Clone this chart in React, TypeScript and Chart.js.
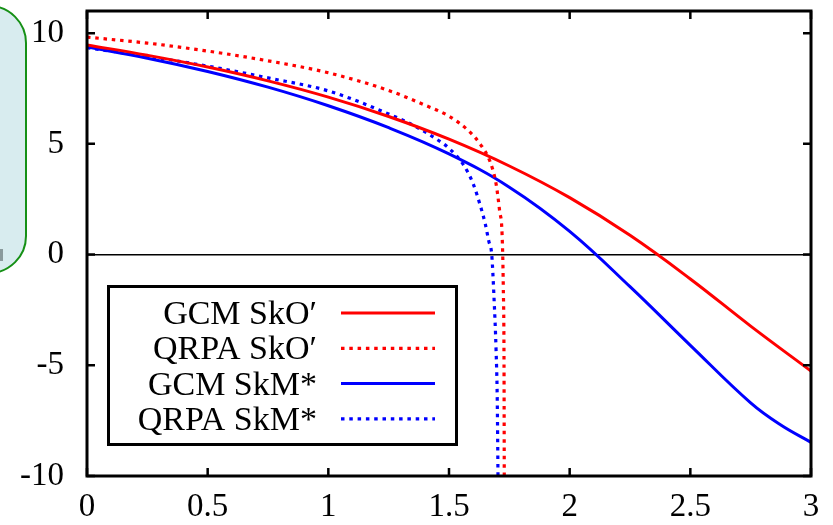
import React, { useEffect, useRef } from "react";
import { Chart, registerables } from "chart.js";

Chart.register(...registerables);

// ---- data ----
const xTickValues = [0, 0.5, 1, 1.5, 2, 2.5, 3];
const yTickValues = [-10, -5, 0, 5, 10];

const seriesLabels = ["GCM SkO\u2032", "QRPA SkO\u2032", "GCM SkM*", "QRPA SkM*"];

const gcmSkOX = [0, 0.25, 0.5, 0.75, 1.0, 1.25, 1.5, 1.75, 2.0, 2.25, 2.5, 2.75, 3.0];
const gcmSkOY = [9.47, 9.0, 8.47, 7.845, 7.11, 6.235, 5.21, 4.0, 2.57, 0.87, -1.1, -3.23, -5.26];

const qrpaSkOX = [0, 0.25, 0.5, 0.75, 1.0, 1.25, 1.4, 1.5, 1.58, 1.63, 1.67, 1.695, 1.71, 1.72, 1.725, 1.728, 1.729];
const qrpaSkOY = [9.82, 9.55, 9.19, 8.75, 8.21, 7.41, 6.75, 6.25, 5.6, 4.98, 4.2, 3.2, 1.95, 0.9, -1.5, -5, -10];

const gcmSkMX = [0, 0.25, 0.5, 0.75, 1.0, 1.25, 1.5, 1.75, 2.0, 2.25, 2.5, 2.75, 2.875, 3.0];
const gcmSkMY = [9.37, 8.87, 8.27, 7.56, 6.72, 5.73, 4.545, 3.045, 1.05, -1.45, -4.1, -6.7, -7.7, -8.48];

const qrpaSkMX = [0, 0.25, 0.5, 0.75, 1.0, 1.25, 1.35, 1.45, 1.5, 1.56, 1.6, 1.63, 1.65, 1.665, 1.677, 1.687, 1.695, 1.7, 1.703];
const qrpaSkMY = [9.34, 8.95, 8.51, 7.98, 7.39, 6.35, 5.85, 5.2, 4.8, 4.05, 3.2, 2.2, 1.4, 0.6, 0, -2.07, -4.3, -6.6, -10];

const toPoints = (xs: number[], ys: number[]) => xs.map((x, i) => ({ x, y: ys[i] }));

const FONT = "'Liberation Serif', 'Times New Roman', serif";

const framePlugin = {
  id: "gnuFrame",
  beforeDraw(chart: any) {
    const ctx = chart.ctx;
    ctx.save();
    ctx.fillStyle = "#ffffff";
    ctx.fillRect(0, 0, chart.width, chart.height);
    // partially visible inset panel on the left
    ctx.beginPath();
    ctx.roundRect(-60, 6, 86, 267, 37);
    ctx.fillStyle = "#d8ecef";
    ctx.fill();
    ctx.lineWidth = 2;
    ctx.strokeStyle = "#169016";
    ctx.stroke();
    ctx.fillStyle = "#8a9a9c";
    ctx.fillRect(0, 249, 3, 12);
    ctx.restore();
  },
  afterDatasetsDraw(chart: any) {
    const { ctx, chartArea: a, scales } = chart;
    ctx.save();
    ctx.strokeStyle = "#000";
    ctx.lineCap = "butt";
    ctx.setLineDash([]);
    // inward ticks on all four sides
    ctx.lineWidth = 2.5;
    const tl = 8;
    xTickValues.forEach((v) => {
      const px = scales.x.getPixelForValue(v);
      ctx.beginPath();
      ctx.moveTo(px, a.bottom);
      ctx.lineTo(px, a.bottom - tl);
      ctx.moveTo(px, a.top);
      ctx.lineTo(px, a.top + tl);
      ctx.stroke();
    });
    yTickValues.forEach((v) => {
      const py = scales.y.getPixelForValue(v);
      ctx.beginPath();
      ctx.moveTo(a.left, py);
      ctx.lineTo(a.left + tl, py);
      ctx.moveTo(a.right, py);
      ctx.lineTo(a.right - tl, py);
      ctx.stroke();
    });
    // frame
    ctx.lineWidth = 3;
    ctx.strokeRect(a.left, a.top, a.right - a.left, a.bottom - a.top);

    // legend box
    const bx = 108.5, by = 286.5, bw = 348, bh = 158;
    ctx.fillStyle = "#fff";
    ctx.fillRect(bx, by, bw, bh);
    ctx.lineWidth = 3;
    ctx.strokeRect(bx, by, bw, bh);
    ctx.font = `34px ${FONT}`;
    ctx.textAlign = "right";
    ctx.textBaseline = "alphabetic";
    chart.data.datasets.forEach((ds: any, i: number) => {
      const ry = 313 + i * 35.3;
      ctx.fillStyle = "#000";
      ctx.fillText(ds.label, 317, ry + 11);
      ctx.beginPath();
      ctx.strokeStyle = ds.borderColor;
      ctx.lineWidth = ds.borderWidth;
      ctx.setLineDash(ds.borderDash || []);
      ctx.moveTo(341, ry);
      ctx.lineTo(435, ry);
      ctx.stroke();
    });
    ctx.restore();
  },
};

export default function App() {
  const canvasRef = useRef<HTMLCanvasElement | null>(null);

  useEffect(() => {
    if (!canvasRef.current) return;
    const dotted = [3.5, 4.8];
    const chart = new Chart(canvasRef.current, {
      type: "line",
      data: {
        datasets: [
          {
            label: seriesLabels[0],
            data: toPoints(gcmSkOX, gcmSkOY),
            borderColor: "#ff0000",
            borderWidth: 3,
            pointRadius: 0,
            tension: 0.4,
          },
          {
            label: seriesLabels[1],
            data: toPoints(qrpaSkOX, qrpaSkOY),
            borderColor: "#ff0000",
            borderWidth: 3.2,
            borderDash: dotted,
            pointRadius: 0,
            cubicInterpolationMode: "monotone",
          },
          {
            label: seriesLabels[2],
            data: toPoints(gcmSkMX, gcmSkMY),
            borderColor: "#0000ff",
            borderWidth: 3,
            pointRadius: 0,
            tension: 0.4,
          },
          {
            label: seriesLabels[3],
            data: toPoints(qrpaSkMX, qrpaSkMY),
            borderColor: "#0000ff",
            borderWidth: 3.2,
            borderDash: dotted,
            pointRadius: 0,
            cubicInterpolationMode: "monotone",
          },
        ],
      },
      options: {
        animation: false,
        responsive: false,
        devicePixelRatio: 1,
        layout: { padding: { left: 0, top: 11, right: 22, bottom: 0 } },
        plugins: { legend: { display: false }, tooltip: { enabled: false } },
        scales: {
          x: {
            type: "linear",
            min: 0,
            max: 3,
            afterBuildTicks: (s: any) => {
              s.ticks = xTickValues.map((v) => ({ value: v }));
            },
            afterFit: (s: any) => {
              s.height = 49;
              s.paddingLeft = 0;
              s.paddingRight = 0;
            },
            grid: { display: false, drawTicks: false },
            border: { display: false },
            ticks: {
              padding: 12,
              color: "#000",
              maxRotation: 0,
              autoSkip: false,
              font: { family: FONT, size: 33 },
              callback: (v: any) => String(v),
            },
          },
          y: {
            type: "linear",
            min: -10,
            max: 11,
            afterBuildTicks: (s: any) => {
              s.ticks = yTickValues.map((v) => ({ value: v }));
            },
            afterFit: (s: any) => {
              s.width = 87;
              s.paddingTop = 0;
              s.paddingBottom = 0;
            },
            grid: {
              drawTicks: false,
              lineWidth: 1.5,
              color: (c: any) => (c.tick && c.tick.value === 0 ? "#000" : "rgba(0,0,0,0)"),
            },
            border: { display: false },
            ticks: {
              padding: 23,
              color: "#000",
              autoSkip: false,
              font: { family: FONT, size: 33 },
              callback: (v: any) => String(v),
            },
          },
        },
      },
      plugins: [framePlugin],
    } as any);
    return () => chart.destroy();
  }, []);

  return (
    <div style={{ position: "fixed", left: 0, top: 0, width: 833, height: 525, background: "#fff" }}>
      <canvas ref={canvasRef} width={833} height={525} style={{ width: 833, height: 525, display: "block" }} />
    </div>
  );
}
